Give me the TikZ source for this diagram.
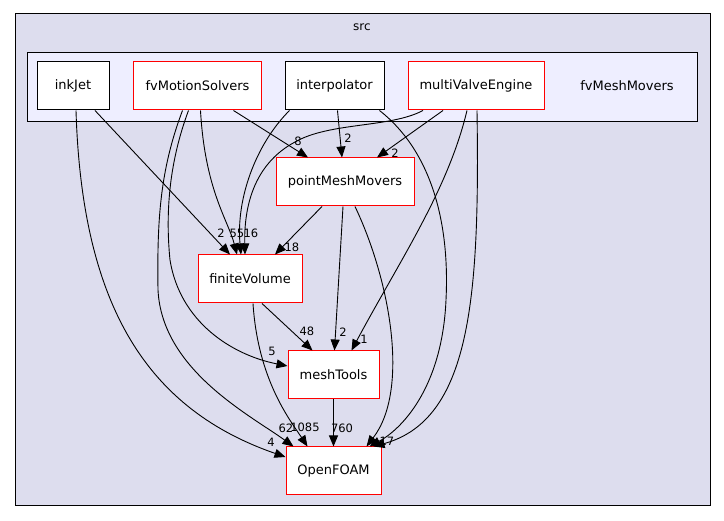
\documentclass[tikz,border=0pt]{standalone}
\usepackage{fontspec}
\setmainfont{DejaVu Sans}
\usetikzlibrary{arrows.meta}

\definecolor{dirred}{RGB}{255,0,0}
\definecolor{srcfill}{RGB}{221,221,238}
\definecolor{movfill}{RGB}{238,238,255}

\tikzset{
  dirbox/.style={draw=dirred, fill=white, line width=1pt, minimum height=48, inner sep=0pt, font=\fontsize{13}{15}\selectfont},
  plainbox/.style={draw=black, fill=white, line width=1pt, minimum height=48, inner sep=0pt, font=\fontsize{13}{15}\selectfont},
  dep/.style={-{Triangle[length=11pt,width=9pt]}, line width=0.9pt, draw=black},
  lbl/.style={font=\fontsize{11.5}{13}\selectfont, inner sep=0pt, text=black}
}

\begin{document}
\begin{tikzpicture}[x=1pt, y=-1pt]

        \useasboundingbox (0, 0) rectangle (724, 521);

        % clusters
        \draw[fill=srcfill, line width=0.9pt] (15, 13) rectangle (710, 505);
        \node[lbl, font=\fontsize{12}{14}\selectfont] (src) at (362, 27) {src};
        \draw[fill=movfill, line width=0.9pt] (27, 52) rectangle (697, 121);
        \node[font=\fontsize{13}{15}\selectfont] (fvMeshMovers) at (627, 86) {fvMeshMovers};

        % directories
        \node[plainbox, minimum width=72] (inkJet) at (73, 86) {inkJet};
        \node[dirbox, minimum width=128] (fvMotionSolvers) at (197.5, 86) {fvMotionSolvers};
        \node[plainbox, minimum width=99] (interpolator) at (334.5, 86) {interpolator};
        \node[dirbox, minimum width=136] (multiValveEngine) at (476, 86) {multiValveEngine};
        \node[dirbox, minimum width=138] (pointMeshMovers) at (345, 182) {pointMeshMovers};
        \node[dirbox, minimum width=104] (finiteVolume) at (250, 279) {finiteVolume};
        \node[dirbox, minimum width=91] (meshTools) at (333.5, 375) {meshTools};
        \node[dirbox, minimum width=95] (OpenFOAM) at (333.5, 471) {OpenFOAM};

        % dependencies
        \draw[dep] ([xshift=22]inkJet.south) -- ([xshift=-20]finiteVolume.north)
            node[lbl] at (221, 233) {2};
        \draw[dep] ([xshift=3]inkJet.south) .. controls (82, 310) and (150, 410) .. ([yshift=14]OpenFOAM.west)
            node[lbl] at (271, 442) {4};

        \draw[dep] ([xshift=36]fvMotionSolvers.south) -- ([xshift=-37]pointMeshMovers.north)
            node[lbl] at (298, 141) {8};
        \draw[dep] ([xshift=3]fvMotionSolvers.south) .. controls (205, 190) and (228, 220) .. ([xshift=-13]finiteVolume.north)
            node[lbl] at (237, 233) {55};
        \draw[dep] ([xshift=-9]fvMotionSolvers.south) .. controls (170, 160) and (165, 210) .. (170, 260)
            .. controls (180, 322) and (232, 355) .. ([yshift=9]meshTools.west)
            node[lbl] at (272, 351) {5};
        \draw[dep] ([xshift=-15]fvMotionSolvers.south) .. controls (160, 170) and (157, 220) .. (158, 290)
            .. controls (162, 370) and (250, 415) .. ([xshift=-40]OpenFOAM.north)
            node[lbl] at (286, 428) {62};

        \draw[dep] ([xshift=3]interpolator.south) -- ([xshift=-3]pointMeshMovers.north)
            node[lbl] at (348, 138) {2};
        \draw[dep] ([xshift=-45]interpolator.south) .. controls (255, 145) and (236, 200) .. ([xshift=-9]finiteVolume.north);
        \draw[dep] ([xshift=45]interpolator.south) .. controls (430, 150) and (450, 220) .. (446, 300)
            .. controls (442, 390) and (400, 430) .. ([xshift=36]OpenFOAM.north);

        \draw[dep] ([xshift=-53]multiValveEngine.south) .. controls (390, 128) and (330, 122) .. (295, 142)
            .. controls (252, 165) and (244, 210) .. ([xshift=-5]finiteVolume.north)
            node[lbl] at (251, 233) {16};
        \draw[dep] ([xshift=-33]multiValveEngine.south) -- ([xshift=32]pointMeshMovers.north)
            node[lbl] at (395, 153) {2};
        \draw[dep] ([xshift=-9]multiValveEngine.south) .. controls (448, 190) and (400, 260) .. ([xshift=18]meshTools.north)
            node[lbl] at (364, 339) {1};
        \draw[dep] ([xshift=1]multiValveEngine.south) .. controls (480, 300) and (470, 420) .. ([xshift=40]OpenFOAM.north)
            node[lbl] at (387, 441) {17};

        \draw[dep] ([xshift=-23]pointMeshMovers.south) -- ([xshift=25]finiteVolume.north)
            node[lbl] at (292, 247) {18};
        \draw[dep] ([xshift=-2]pointMeshMovers.south) -- ([xshift=1]meshTools.north)
            node[lbl] at (343, 332) {2};
        \draw[dep] ([xshift=10]pointMeshMovers.south) .. controls (390, 280) and (410, 390) .. ([xshift=33]OpenFOAM.north);

        \draw[dep] ([xshift=12]finiteVolume.south) -- ([xshift=-21]meshTools.north)
            node[lbl] at (307, 331) {48};
        \draw[dep] ([xshift=3]finiteVolume.south) .. controls (258, 380) and (290, 420) .. ([xshift=-26]OpenFOAM.north)
            node[lbl] at (305, 427) {1085};

        \draw[dep] (meshTools) -- (OpenFOAM)
            node[lbl] at (342, 428) {760};
    \end{tikzpicture}
\end{document}
